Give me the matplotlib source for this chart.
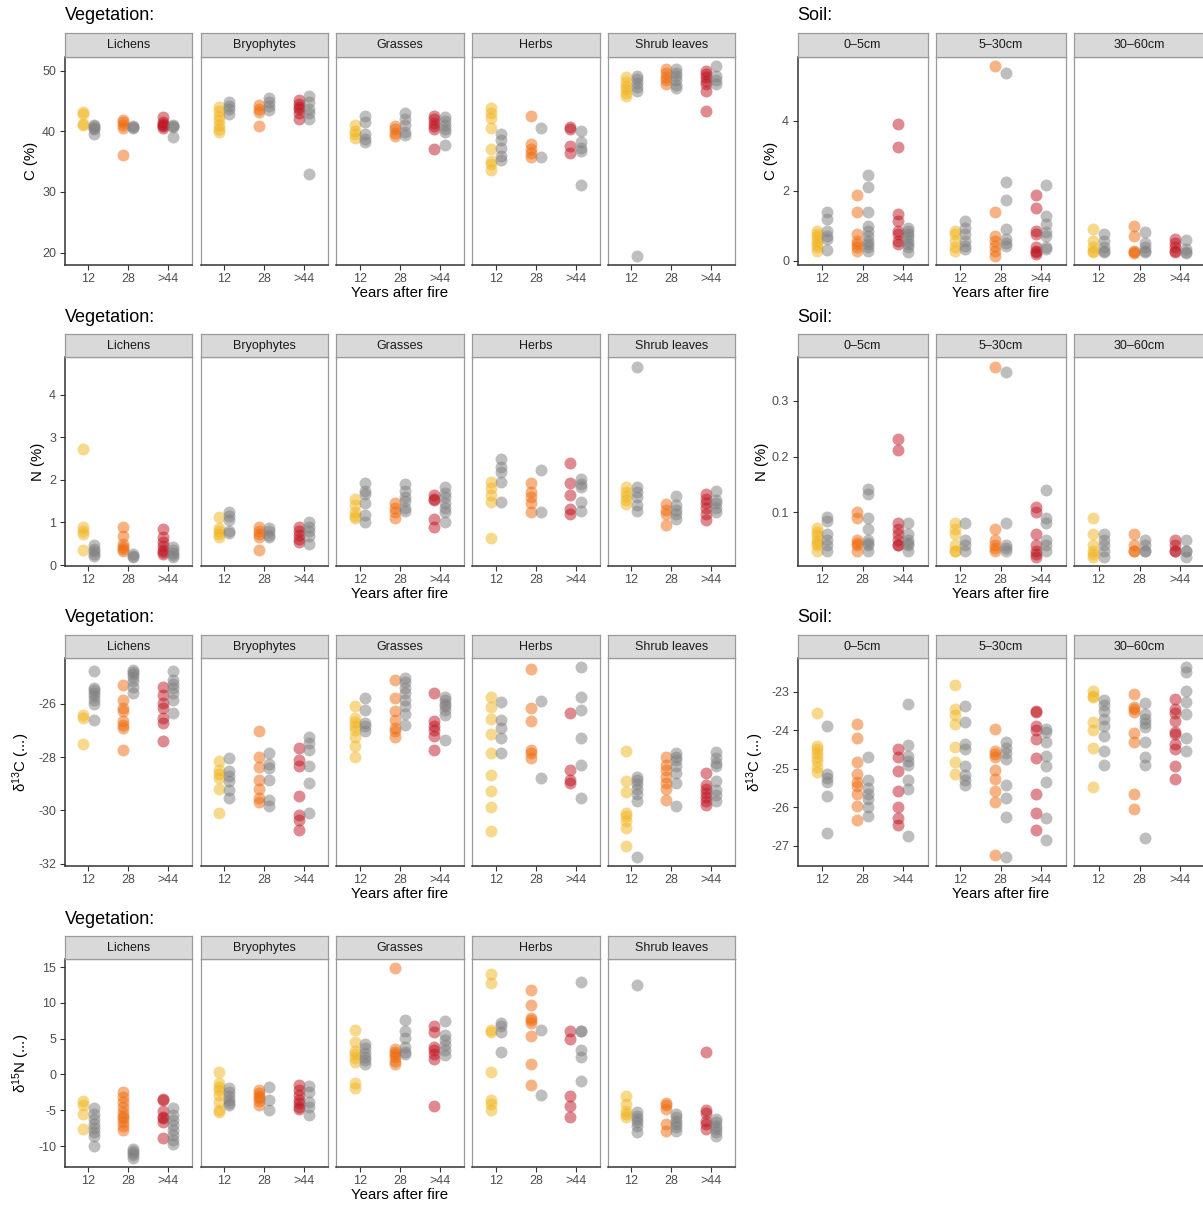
import matplotlib
matplotlib.use('Agg')
import matplotlib.pyplot as plt

plt.rcParams['font.family'] = ['Liberation Sans', 'DejaVu Sans']
plt.rcParams['mathtext.default'] = 'regular'
plt.rcParams['axes.unicode_minus'] = True

W, H, DPI = 1203, 1207, 100

AGES = ['12', '28', '>44']
VEG_GROUPS = ['Lichens', 'Bryophytes', 'Grasses', 'Herbs', 'Shrub leaves']
SOIL_GROUPS = ['0\u20135cm', '5\u201330cm', '30\u201360cm']
FIRE_COLORS = ['#F1B41F', '#EE6B0E', '#BE1622']
CTRL_COLOR = '#7F7F7F'

# ---------------- C (%) vegetation ----------------
C_LICHENS_FIRE = [[43.2, 42.8, 41.2, 41.0], [41.9, 41.5, 41.0, 40.6, 36.1], [42.3, 41.6, 41.2, 41.0, 40.8, 40.6]]
C_LICHENS_CTRL = [[41.0, 40.8, 40.6, 40.4, 39.6], [40.9, 40.7, 40.6], [41.0, 40.8, 40.7, 39.1]]
C_BRYO_FIRE = [[44.0, 43.3, 42.5, 41.8, 41.1, 40.4, 39.9], [44.3, 43.6, 43.2, 40.8], [45.2, 44.5, 44.0, 43.6, 43.0, 42.0]]
C_BRYO_CTRL = [[44.8, 44.2, 43.6, 42.9], [45.5, 44.8, 44.2, 43.5], [45.8, 44.8, 43.6, 43.0, 42.0, 32.9]]
C_GRASS_FIRE = [[41.1, 40.0, 39.5, 38.9], [40.9, 40.4, 39.8, 39.2], [42.6, 42.0, 41.4, 40.8, 40.3, 37.1]]
C_GRASS_CTRL = [[42.6, 41.6, 39.6, 38.8, 38.2], [43.0, 42.0, 41.0, 39.9, 39.4], [42.3, 41.7, 41.0, 40.4, 39.9, 37.8]]
C_HERB_FIRE = [[43.8, 43.1, 42.2, 40.6, 37.1, 35.1, 34.6, 33.6], [42.5, 37.9, 37.1, 36.4, 35.7], [40.7, 40.4, 37.6, 36.5]]
C_HERB_CTRL = [[39.5, 38.5, 37.3, 35.9, 35.3], [40.5, 35.7], [40.1, 38.2, 37.3, 36.7, 31.1]]
C_SHRUB_FIRE = [[48.9, 48.2, 47.5, 46.9, 46.3, 45.9], [50.3, 49.6, 49.0, 48.4, 47.8], [50.0, 49.5, 48.9, 48.3, 47.8, 46.6, 43.3]]
C_SHRUB_CTRL = [[49.2, 48.6, 48.0, 47.3, 46.7, 19.5], [50.3, 49.7, 49.1, 48.4, 47.7, 47.1], [50.7, 49.2, 48.4, 47.8]]

# ---------------- C (%) soil ----------------
SC_05_FIRE = [[0.86, 0.76, 0.67, 0.57, 0.48, 0.38, 0.29], [1.89, 1.38, 0.76, 0.57, 0.48, 0.38, 0.29], [3.90, 3.24, 1.33, 1.14, 0.86, 0.76, 0.57, 0.48]]
SC_05_CTRL = [[1.38, 1.19, 0.86, 0.71, 0.62, 0.30], [2.46, 2.10, 1.38, 1.0, 0.86, 0.70, 0.57, 0.48, 0.38, 0.29], [0.95, 0.86, 0.76, 0.67, 0.57, 0.48, 0.38, 0.24]]
SC_530_FIRE = [[0.86, 0.76, 0.57, 0.38, 0.29], [5.55, 1.38, 0.71, 0.57, 0.43, 0.29, 0.15], [1.89, 1.5, 0.86, 0.76, 0.38, 0.29, 0.24, 0.19]]
SC_530_CTRL = [[1.14, 0.95, 0.76, 0.57, 0.43, 0.33], [5.37, 2.24, 1.74, 0.9, 0.62, 0.52, 0.43], [2.17, 1.29, 1.05, 0.81, 0.71, 0.38, 0.33]]
SC_3060_FIRE = [[0.92, 0.57, 0.38, 0.29, 0.24], [1.0, 0.71, 0.29, 0.24, 0.21], [0.62, 0.52, 0.38, 0.29, 0.24]]
SC_3060_CTRL = [[0.76, 0.57, 0.38, 0.29, 0.24], [0.81, 0.52, 0.38, 0.29, 0.24], [0.59, 0.33, 0.24, 0.21]]

# ---------------- N (%) vegetation ----------------
N_LICHENS_FIRE = [[2.74, 0.9, 0.8, 0.72, 0.35], [0.9, 0.68, 0.5, 0.42, 0.38, 0.32], [0.85, 0.65, 0.55, 0.45, 0.35, 0.3, 0.27]]
N_LICHENS_CTRL = [[0.46, 0.38, 0.32, 0.27, 0.22], [0.25, 0.22, 0.2], [0.42, 0.35, 0.28, 0.24, 0.2]]
N_BRYO_FIRE = [[1.12, 0.88, 0.8, 0.72, 0.65], [0.9, 0.8, 0.72, 0.65, 0.36], [0.9, 0.8, 0.7, 0.62, 0.55]]
N_BRYO_CTRL = [[1.25, 1.15, 1.05, 0.8, 0.75], [0.88, 0.8, 0.7, 0.65], [1.0, 0.9, 0.8, 0.68, 0.5]]
N_GRASS_FIRE = [[1.55, 1.4, 1.25, 1.15, 1.1], [1.45, 1.35, 1.25, 1.1], [1.64, 1.55, 1.52, 1.09, 0.89]]
N_GRASS_CTRL = [[1.93, 1.75, 1.68, 1.46, 1.17, 1.0], [1.9, 1.75, 1.6, 1.5, 1.35, 1.27], [1.83, 1.7, 1.6, 1.45, 1.35, 1.25, 1.0]]
N_HERB_FIRE = [[1.95, 1.8, 1.64, 1.48, 0.64], [1.93, 1.72, 1.6, 1.45, 1.25], [2.41, 1.93, 1.64, 1.32, 1.2]]
N_HERB_CTRL = [[2.5, 2.3, 2.19, 1.95, 1.48], [2.23, 1.24], [2.03, 1.9, 1.83, 1.48, 1.28]]
N_SHRUB_FIRE = [[1.83, 1.72, 1.62, 1.52, 1.44], [1.43, 1.3, 1.2, 0.95], [1.66, 1.55, 1.45, 1.35, 1.2, 1.07]]
N_SHRUB_CTRL = [[4.67, 1.83, 1.72, 1.6, 1.4, 1.28], [1.62, 1.4, 1.3, 1.2, 1.09], [1.74, 1.52, 1.45, 1.35, 1.25]]

# ---------------- N (%) soil ----------------
SN_05_FIRE = [[0.072, 0.065, 0.058, 0.05, 0.045, 0.04, 0.03], [0.1, 0.09, 0.05, 0.045, 0.04, 0.03], [0.232, 0.211, 0.08, 0.07, 0.06, 0.05, 0.04, 0.04]]
SN_05_CTRL = [[0.091, 0.084, 0.06, 0.05, 0.04, 0.03], [0.141, 0.132, 0.09, 0.07, 0.05, 0.045, 0.04, 0.03], [0.08, 0.06, 0.05, 0.045, 0.04, 0.03]]
SN_530_FIRE = [[0.08, 0.07, 0.06, 0.04, 0.03, 0.03], [0.362, 0.07, 0.05, 0.04, 0.035, 0.03], [0.11, 0.1, 0.06, 0.04, 0.03, 0.025, 0.02]]
SN_530_CTRL = [[0.08, 0.05, 0.04, 0.03], [0.352, 0.08, 0.04, 0.035, 0.03], [0.14, 0.09, 0.08, 0.05, 0.04, 0.03]]
SN_3060_FIRE = [[0.09, 0.06, 0.04, 0.03, 0.025, 0.02], [0.06, 0.04, 0.03, 0.03], [0.05, 0.04, 0.03, 0.03]]
SN_3060_CTRL = [[0.06, 0.05, 0.04, 0.03, 0.02], [0.05, 0.04, 0.03, 0.03], [0.05, 0.03, 0.03, 0.02]]

# ---------------- d13C vegetation ----------------
D13_LICHENS_FIRE = [[-26.41, -26.54, -27.5], [-25.29, -25.85, -26.16, -26.29, -26.66, -26.8, -26.91, -27.73], [-25.38, -25.66, -25.98, -26.16, -26.54, -26.73, -27.39]]
D13_LICHENS_CTRL = [[-24.79, -25.41, -25.5, -25.6, -25.7, -25.85, -26.0, -26.6], [-24.73, -24.8, -24.9, -25.0, -25.16, -25.38, -25.6], [-24.76, -25.1, -25.25, -25.4, -25.6, -25.85, -26.33]]
D13_BRYO_FIRE = [[-28.14, -28.48, -28.65, -28.8, -29.2, -30.1], [-27.04, -27.98, -28.39, -28.85, -29.2, -29.54, -29.7], [-27.66, -28.1, -28.35, -29.45, -30.16, -30.35, -30.73]]
D13_BRYO_CTRL = [[-28.04, -28.54, -28.7, -28.9, -29.23, -29.54], [-27.85, -28.26, -28.4, -28.85, -29.6, -29.85], [-27.26, -27.48, -27.73, -28.35, -28.98, -30.08]]
D13_GRASS_FIRE = [[-26.1, -26.54, -26.7, -26.85, -27.0, -27.25, -27.6, -27.98], [-25.1, -25.79, -26.29, -26.6, -26.91, -27.04, -27.23], [-25.58, -26.63, -26.85, -27.0, -27.2, -27.75]]
D13_GRASS_CTRL = [[-25.8, -26.23, -26.73, -26.85, -27.04], [-25.04, -25.2, -25.4, -25.6, -25.85, -26.1, -26.4, -26.8], [-25.73, -25.85, -26.0, -26.1, -26.23, -26.41, -27.35]]
D13_HERB_FIRE = [[-25.76, -26.13, -26.56, -27.13, -27.83, -28.66, -29.29, -29.88, -30.79], [-24.69, -26.16, -26.66, -27.73, -27.85, -28.04], [-26.33, -28.5, -28.85, -28.98]]
D13_HERB_CTRL = [[-25.95, -26.6, -26.91, -27.29, -27.85], [-25.91, -28.79], [-24.64, -25.73, -26.23, -27.29, -28.31, -29.54]]
D13_SHRUB_FIRE = [[-27.76, -28.88, -29.31, -30.08, -30.2, -30.4, -30.66, -31.33], [-27.98, -28.29, -28.48, -28.73, -28.98, -29.2, -29.6], [-28.6, -29.04, -29.2, -29.35, -29.5, -29.66, -29.79]]
D13_SHRUB_CTRL = [[-28.73, -28.85, -29.0, -29.2, -29.4, -29.66, -31.73], [-27.85, -27.98, -28.1, -28.35, -28.6, -28.98, -29.83], [-27.81, -28.04, -28.23, -28.35, -28.91, -29.23, -29.41, -29.66]]

# ---------------- d13C soil ----------------
SD13_05_FIRE = [[-23.55, -24.4, -24.5, -24.6, -24.7, -24.8, -24.95, -25.09], [-23.84, -24.21, -24.83, -25.13, -25.35, -25.45, -25.65, -25.97, -26.34], [-24.48, -24.7, -25.07, -25.58, -25.99, -26.29, -26.47]]
SD13_05_CTRL = [[-23.9, -25.13, -25.25, -25.35, -25.72, -26.66], [-24.7, -25.3, -25.5, -25.65, -25.78, -25.99, -26.23], [-23.32, -24.38, -24.66, -24.8, -24.9, -25.28, -25.52, -26.75]]
SD13_530_FIRE = [[-22.83, -23.45, -23.6, -23.84, -24.44, -24.83, -25.13], [-23.97, -24.53, -24.62, -24.7, -25.04, -25.26, -25.58, -25.86, -27.24], [-23.49, -23.53, -23.88, -24.0, -24.22, -24.72, -25.65, -26.16, -26.59]]
SD13_530_CTRL = [[-23.38, -23.79, -24.35, -24.5, -24.94, -25.17, -25.3, -25.43], [-24.31, -24.45, -24.6, -24.74, -25.43, -25.76, -26.25, -27.28], [-23.97, -24.05, -24.31, -24.66, -24.94, -25.34, -26.27, -26.84]]
SD13_3060_FIRE = [[-22.97, -23.1, -23.15, -23.79, -24.0, -24.46, -25.47], [-23.06, -23.39, -23.45, -23.53, -24.08, -24.31, -25.66, -26.05], [-23.19, -23.45, -23.55, -23.75, -24.05, -24.1, -24.35, -24.48, -24.94, -25.26]]
SD13_3060_CTRL = [[-23.22, -23.35, -23.5, -23.7, -23.88, -24.14, -24.53, -24.89], [-23.3, -23.58, -23.7, -23.8, -23.92, -24.31, -24.7, -24.89, -26.81], [-22.37, -22.5, -22.97, -23.26, -23.59, -24.21, -24.54]]

# ---------------- d15N vegetation ----------------
D15_LICHENS_FIRE = [[-3.64, -4.2, -5.5, -7.66], [-2.5, -3.2, -3.9, -4.6, -5.3, -5.8, -6.1, -6.6, -7.2, -7.8], [-3.4, -3.55, -5.05, -5.9, -6.1, -6.7, -8.9]]
D15_LICHENS_CTRL = [[-4.7, -5.5, -6.2, -6.9, -7.5, -8.1, -8.6, -9.95], [-10.4, -10.7, -11.0, -11.3, -11.6], [-4.7, -5.6, -6.3, -7.0, -7.7, -8.4, -9.2, -9.7]]
D15_BRYO_FIRE = [[0.4, -1.2, -1.7, -2.2, -2.8, -3.9, -4.95, -5.3], [-2.2, -2.6, -3.0, -3.3, -3.7, -4.2], [-1.5, -2.2, -2.8, -3.5, -4.0, -4.5, -4.8]]
D15_BRYO_CTRL = [[-1.9, -2.5, -3.0, -3.5, -4.0, -4.2], [-1.8, -3.55, -4.95], [-1.6, -2.5, -3.9, -4.6, -5.7]]
D15_GRASS_FIRE = [[6.26, 4.5, 3.3, 2.9, 2.3, 1.75, -1.2, -1.85], [14.8, 3.6, 3.2, 2.8, 2.4, 1.9, 1.5], [6.7, 5.9, 3.8, 3.4, 2.9, 2.2, -4.35]]
D15_GRASS_CTRL = [[4.2, 3.7, 3.0, 2.4, 2.0, 1.5], [7.6, 6.0, 5.1, 3.8, 3.2, 2.9], [7.5, 5.5, 4.8, 4.1, 3.4, 2.7]]
D15_HERB_FIRE = [[14.0, 12.8, 6.2, 5.9, 0.4, -3.6, -4.1, -5.0], [11.8, 9.7, 7.9, 7.6, 7.2, 5.3, 1.5, -1.5], [6.1, 5.0, -2.95, -4.35, -6.0]]
D15_HERB_CTRL = [[7.2, 6.7, 5.9, 3.2], [6.2, -2.8], [12.9, 6.1, 6.0, 3.4, 2.4, -0.9]]
D15_SHRUB_FIRE = [[-2.95, -4.1, -5.1, -5.5, -6.0], [-4.0, -4.3, -4.8, -6.9, -7.85], [3.1, -4.95, -5.4, -6.45, -6.9, -7.6]]
D15_SHRUB_CTRL = [[12.5, -5.3, -5.75, -6.2, -6.7, -7.2, -8.1], [-5.5, -5.9, -6.5, -6.9, -7.4, -7.85], [-6.2, -6.7, -7.2, -7.6, -8.1, -8.55]]

# ---------------- axis ticks / labels ----------------
VEG_C_TICKS = [20, 30, 40, 50]
SOIL_C_TICKS = [0, 2, 4]
VEG_N_TICKS = [0, 1, 2, 3, 4]
SOIL_N_TICKS = [0.1, 0.2, 0.3]
VEG_D13_TICKS = [-32, -30, -28, -26]
SOIL_D13_TICKS = [-27, -26, -25, -24, -23]
VEG_D15_TICKS = [-10, -5, 0, 5, 10, 15]

YLAB_C = 'C (%)'
YLAB_N = 'N (%)'
YLAB_D13 = '\u03b4$^{13}$C (...)'
YLAB_D15 = '\u03b4$^{15}$N (...)'

# ---------------- layout (pixels) ----------------
VEG_X = [(64.5, 192), (200.5, 327.5), (336, 463.5), (472, 599.5), (607.5, 735)]
SOIL_X = [(797.5, 927.5), (935.5, 1065.5), (1074, 1205)]
STRIP_TOP = [33, 334, 635, 936]
PANEL_TOP = [57, 357, 658, 959]
PANEL_BOT = [265, 566, 866, 1167]

DX = 0.13
MS = 74
ALPHA = 0.5

fig = plt.figure(figsize=(W / DPI, H / DPI), dpi=DPI)


def rect(x0, y0, x1, y1):
    return [x0 / W, 1 - y1 / H, (x1 - x0) / W, (y1 - y0) / H]


def draw_block(row, xs, names, fire_sets, ctrl_sets, yticks, fmt, ylabel, title,
               ylabel_x):
    first = None
    for j, ((x0, x1), name, fire, ctrl) in enumerate(zip(xs, names, fire_sets, ctrl_sets)):
        ax = fig.add_axes(rect(x0, PANEL_TOP[row], x1, PANEL_BOT[row]),
                          sharey=first)
        if first is None:
            first = ax
        for i in range(len(AGES)):
            ax.scatter([i + 1 - DX] * len(fire[i]), fire[i], s=MS,
                       color=FIRE_COLORS[i], alpha=ALPHA, linewidths=0, zorder=3)
            ax.scatter([i + 1 + DX] * len(ctrl[i]), ctrl[i], s=MS,
                       color=CTRL_COLOR, alpha=ALPHA, linewidths=0, zorder=3)
        ax.set_xlim(0.4, 3.6)
        ax.set_xticks([1, 2, 3])
        ax.set_xticklabels(AGES)
        ax.tick_params(axis='both', labelsize=9, labelcolor='#4D4D4D',
                       color='#333333', length=3.5, width=0.8, pad=2.5)
        for s in ['top', 'right']:
            ax.spines[s].set_color('#9A9A9A')
            ax.spines[s].set_linewidth(0.9)
        ax.spines['bottom'].set_color('#333333')
        ax.spines['bottom'].set_linewidth(1.1)
        if j == 0:
            ax.spines['left'].set_color('#333333')
            ax.spines['left'].set_linewidth(1.1)
            ax.set_yticks(yticks)
            ax.set_yticklabels([fmt.format(t) for t in yticks])
        else:
            ax.spines['left'].set_color('#9A9A9A')
            ax.spines['left'].set_linewidth(0.9)
            ax.tick_params(axis='y', left=False, labelleft=False)
        # strip
        sax = fig.add_axes(rect(x0, STRIP_TOP[row], x1, PANEL_TOP[row]))
        sax.set_facecolor('#D9D9D9')
        sax.set_xticks([])
        sax.set_yticks([])
        for s in sax.spines.values():
            s.set_color('#9A9A9A')
            s.set_linewidth(0.9)
        sax.text(0.5, 0.48, name, ha='center', va='center', fontsize=9,
                 color='#1A1A1A', transform=sax.transAxes)
    first.margins(y=0.05)
    # title
    fig.text(xs[0][0] / W, 1 - (STRIP_TOP[row] - 17) / H, title, fontsize=13,
             ha='left', va='center', color='#000000')
    # y label
    yc = (PANEL_TOP[row] + PANEL_BOT[row]) / 2
    fig.text(ylabel_x / W, 1 - yc / H, ylabel, rotation=90, fontsize=10.8,
             ha='center', va='center', color='#000000')
    # x label
    xc = (xs[len(xs) // 2][0] + xs[len(xs) // 2][1]) / 2
    fig.text(xc / W, 1 - (PANEL_BOT[row] + 28) / H, 'Years after fire',
             fontsize=10.8, ha='center', va='center', color='#000000')


draw_block(0, VEG_X, VEG_GROUPS,
           [C_LICHENS_FIRE, C_BRYO_FIRE, C_GRASS_FIRE, C_HERB_FIRE, C_SHRUB_FIRE],
           [C_LICHENS_CTRL, C_BRYO_CTRL, C_GRASS_CTRL, C_HERB_CTRL, C_SHRUB_CTRL],
           VEG_C_TICKS, '{:g}', YLAB_C, 'Vegetation:', 31)
draw_block(0, SOIL_X, SOIL_GROUPS,
           [SC_05_FIRE, SC_530_FIRE, SC_3060_FIRE],
           [SC_05_CTRL, SC_530_CTRL, SC_3060_CTRL],
           SOIL_C_TICKS, '{:g}', YLAB_C, 'Soil:', 771)

draw_block(1, VEG_X, VEG_GROUPS,
           [N_LICHENS_FIRE, N_BRYO_FIRE, N_GRASS_FIRE, N_HERB_FIRE, N_SHRUB_FIRE],
           [N_LICHENS_CTRL, N_BRYO_CTRL, N_GRASS_CTRL, N_HERB_CTRL, N_SHRUB_CTRL],
           VEG_N_TICKS, '{:g}', YLAB_N, 'Vegetation:', 38)
draw_block(1, SOIL_X, SOIL_GROUPS,
           [SN_05_FIRE, SN_530_FIRE, SN_3060_FIRE],
           [SN_05_CTRL, SN_530_CTRL, SN_3060_CTRL],
           SOIL_N_TICKS, '{:.1f}', YLAB_N, 'Soil:', 762)

draw_block(2, VEG_X, VEG_GROUPS,
           [D13_LICHENS_FIRE, D13_BRYO_FIRE, D13_GRASS_FIRE, D13_HERB_FIRE, D13_SHRUB_FIRE],
           [D13_LICHENS_CTRL, D13_BRYO_CTRL, D13_GRASS_CTRL, D13_HERB_CTRL, D13_SHRUB_CTRL],
           VEG_D13_TICKS, '{:g}', YLAB_D13, 'Vegetation:', 21)
draw_block(2, SOIL_X, SOIL_GROUPS,
           [SD13_05_FIRE, SD13_530_FIRE, SD13_3060_FIRE],
           [SD13_05_CTRL, SD13_530_CTRL, SD13_3060_CTRL],
           SOIL_D13_TICKS, '{:g}', YLAB_D13, 'Soil:', 755)

draw_block(3, VEG_X, VEG_GROUPS,
           [D15_LICHENS_FIRE, D15_BRYO_FIRE, D15_GRASS_FIRE, D15_HERB_FIRE, D15_SHRUB_FIRE],
           [D15_LICHENS_CTRL, D15_BRYO_CTRL, D15_GRASS_CTRL, D15_HERB_CTRL, D15_SHRUB_CTRL],
           VEG_D15_TICKS, '{:g}', YLAB_D15, 'Vegetation:', 21)

fig.savefig('out.png', dpi=DPI)
